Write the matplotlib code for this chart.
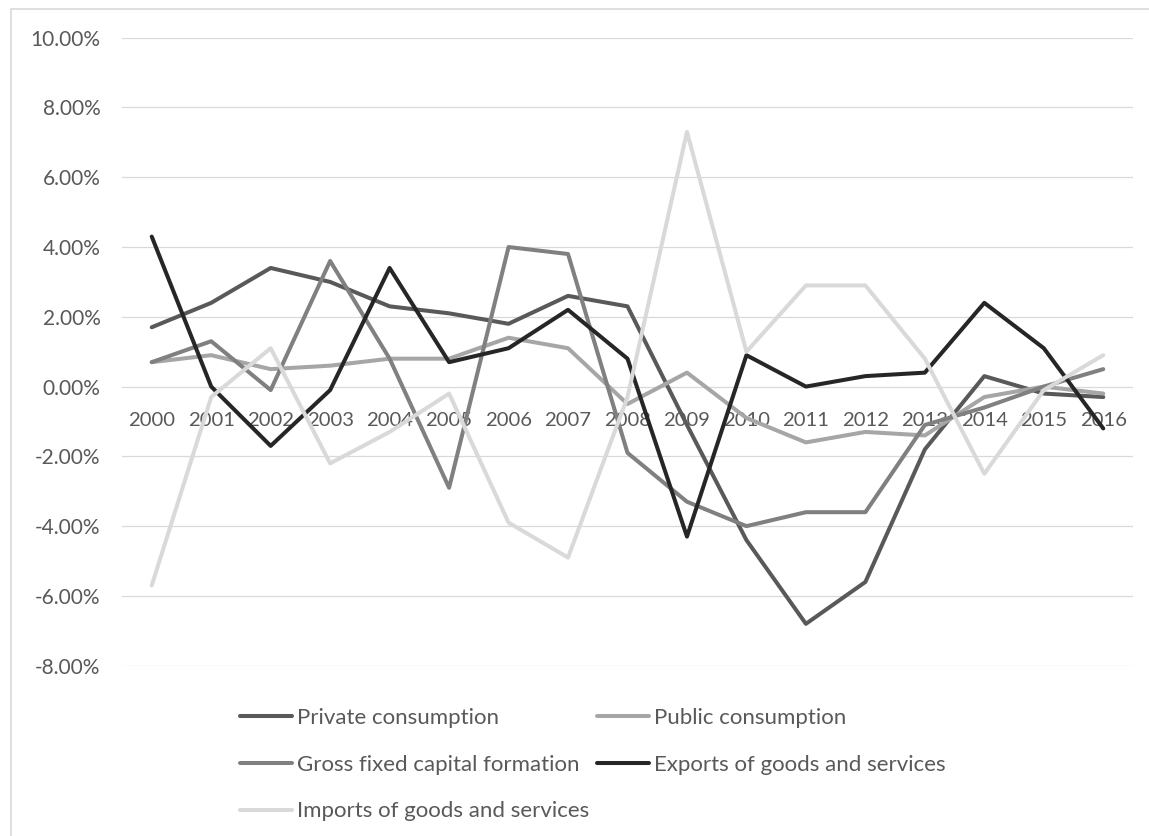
import numpy as np
import matplotlib
matplotlib.use('Agg')
import matplotlib.pyplot as plt
from matplotlib.patches import Rectangle
from matplotlib.ticker import FuncFormatter

plt.rcParams['font.family'] = ['Lato', 'DejaVu Sans']

years = ['2000', '2001', '2002', '2003', '2004', '2005', '2006', '2007', '2008',
         '2009', '2010', '2011', '2012', '2013', '2014', '2015', '2016']

private_cons = [1.7, 2.4, 3.4, 3.0, 2.3, 2.1, 1.8, 2.6, 2.3, -1.1, -4.4, -6.8, -5.6, -1.8, 0.3, -0.2, -0.3]
public_cons = [0.7, 0.9, 0.5, 0.6, 0.8, 0.8, 1.4, 1.1, -0.5, 0.4, -0.9, -1.6, -1.3, -1.4, -0.3, 0.0, -0.2]
gfcf = [0.7, 1.3, -0.1, 3.6, 0.8, -2.9, 4.0, 3.8, -1.9, -3.3, -4.0, -3.6, -3.6, -1.1, -0.6, 0.0, 0.5]
exports = [4.3, 0.0, -1.7, -0.1, 3.4, 0.7, 1.1, 2.2, 0.8, -4.3, 0.9, 0.0, 0.3, 0.4, 2.4, 1.1, -1.2]
imports = [-5.7, -0.3, 1.1, -2.2, -1.3, -0.2, -3.9, -4.9, -0.3, 7.3, 1.0, 2.9, 2.9, 0.8, -2.5, -0.1, 0.9]

W, H = 1149, 836
fig = plt.figure(figsize=(W / 100, H / 100), dpi=100)
ax = fig.add_axes([122 / W, 1 - 665.7 / H, (1133 - 122) / W, (665.7 - 37.7) / H])

index = np.arange(len(years))
lw = 2.9
l1 = ax.plot(index, private_cons, color='#595959', linewidth=lw, solid_joinstyle='round', solid_capstyle='round')
l2 = ax.plot(index, public_cons, color='#a6a6a6', linewidth=lw, solid_joinstyle='round', solid_capstyle='round')
l3 = ax.plot(index, gfcf, color='#808080', linewidth=lw, solid_joinstyle='round', solid_capstyle='round')
l4 = ax.plot(index, exports, color='#262626', linewidth=lw, solid_joinstyle='round', solid_capstyle='round')
l5 = ax.plot(index, imports, color='#d9d9d9', linewidth=lw, solid_joinstyle='round', solid_capstyle='round')

ax.set_xlim(-0.5, len(years) - 0.5)
ax.set_ylim(-8, 10)
ax.set_yticks(np.arange(-8, 11, 2))
ax.yaxis.set_major_formatter(FuncFormatter(lambda v, _: f'{v:.2f}%'))
ax.set_xticks(index)
ax.set_xticklabels(years)

ax.grid(axis='y', color='#d9d9d9', linewidth=0.9)
ax.set_axisbelow(True)
for s in ['top', 'right', 'left']:
    ax.spines[s].set_visible(False)
ax.spines['bottom'].set_position(('data', 0))
ax.spines['bottom'].set_visible(False)

ax.tick_params(axis='y', length=0, pad=15.5, labelsize=15, labelcolor='#595959')
ax.tick_params(axis='x', length=0, pad=18.3, labelsize=14.6, labelcolor='#595959')

labels = ['Private consumption', 'Gross fixed capital formation', 'Imports of goods and services',
          'Public consumption', 'Exports of goods and services']
handles = [l1[0], l3[0], l5[0], l2[0], l4[0]]
fig.legend(handles, labels, ncol=2, loc='upper left', bbox_to_anchor=(240 / W, 1 - 708 / H),
           frameon=False, fontsize=16, labelcolor='#595959', handlelength=2.34,
           handletextpad=0.23, columnspacing=0.35, labelspacing=1.2, borderpad=0, borderaxespad=0)

# outer chart border (right/bottom edges cut off)
fig.add_artist(Rectangle((11 / W, -0.05), 1.2, 1.05 - 8.5 / H, transform=fig.transFigure,
                         fill=False, edgecolor='#d9d9d9', linewidth=1.2))

plt.savefig('out.png', dpi=100)
